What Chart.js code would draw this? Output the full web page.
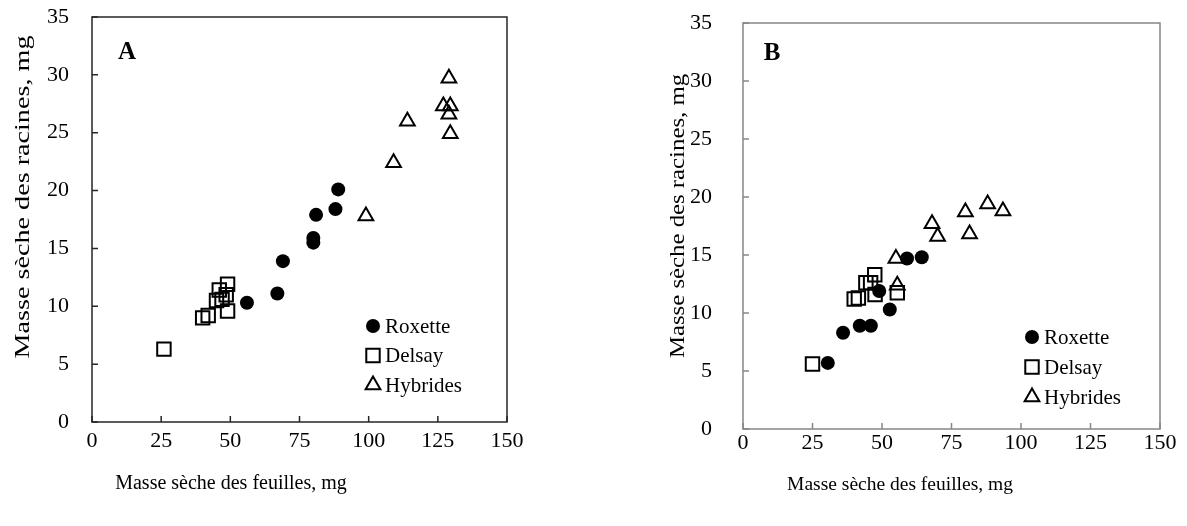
<!DOCTYPE html>
<html>
<head>
<meta charset="utf-8">
<script src="https://cdn.jsdelivr.net/npm/chart.js@4.4.1/dist/chart.umd.min.js"></script>
<style>
  html, body { margin: 0; padding: 0; background: #fff; }
  #wrap { position: relative; width: 1187px; height: 526px; }
  .box { position: absolute; top: 0; height: 526px; }
  #boxA { left: 0; width: 593px; }
  #boxB { left: 593px; width: 594px; }
</style>
</head>
<body>
<div id="wrap">
  <div class="box" id="boxA"><canvas id="chartA"></canvas></div>
  <div class="box" id="boxB"><canvas id="chartB"></canvas></div>
</div>
<script>
// --- data ---
const seriesNames = ['Roxette', 'Delsay', 'Hybrides'];
const xTicks = [0, 25, 50, 75, 100, 125, 150];
const yTicks = [0, 5, 10, 15, 20, 25, 30, 35];

// panel A
const roxA_x = [56, 67, 69, 80, 80, 81, 88, 89];
const roxA_y = [10.3, 11.1, 13.9, 15.5, 15.9, 17.9, 18.4, 20.1];
const delA_x = [26, 40, 42, 45, 47, 46, 48.5, 49, 49];
const delA_y = [6.3, 9.0, 9.2, 10.5, 10.6, 11.4, 11.0, 9.6, 11.9];
const hybA_x = [99, 109, 114, 127, 129.5, 129, 129, 129.5];
const hybA_y = [17.8, 22.4, 26.0, 27.3, 27.3, 26.6, 29.7, 24.9];

// panel B
const roxB_x = [30.5, 36, 42, 46, 49, 52.8, 59, 64.3];
const roxB_y = [5.7, 8.3, 8.9, 8.9, 11.9, 10.3, 14.7, 14.8];
const delB_x = [25, 40, 41.5, 44.2, 45.9, 47.4, 47.5, 55.5];
const delB_y = [5.6, 11.2, 11.3, 12.6, 12.6, 13.3, 11.6, 11.75];
const hybB_x = [55, 55.5, 68, 70, 80, 81.5, 88, 93.5];
const hybB_y = [14.7, 12.4, 17.7, 16.6, 18.7, 16.8, 19.4, 18.8];

const FONT = "'Liberation Serif', 'Times New Roman', serif";
const xTitle = 'Masse sèche des feuilles, mg';
const yTitle = 'Masse sèche des racines, mg';

function pts(xs, ys) {
    return xs.map((x, i) => ({ x: x, y: ys[i] }));
}

// marker styles, same order as seriesNames
const markers = [
    { pointStyle: 'circle', radius: 7, backgroundColor: '#000', borderColor: '#000', borderWidth: 0 },
    { pointStyle: 'rect', radius: 9.5, backgroundColor: 'rgba(0,0,0,0)', borderColor: '#000', borderWidth: 2 },
    { pointStyle: 'triangle', radius: 8.5, backgroundColor: 'rgba(0,0,0,0)', borderColor: '#000', borderWidth: 2 }
];

function makeDatasets(list) {
    return list.map((d, i) => ({
        label: seriesNames[i],
        data: d,
        pointStyle: markers[i].pointStyle,
        pointRadius: markers[i].radius,
        pointHoverRadius: markers[i].radius,
        pointBackgroundColor: markers[i].backgroundColor,
        pointBorderColor: markers[i].borderColor,
        pointBorderWidth: markers[i].borderWidth,
        showLine: false
    }));
}

// draws frame, inward ticks, titles, panel letter and legend
const decorPlugin = {
    id: 'decor',
    afterDraw(chart, args, o) {
        const ctx = chart.ctx;
        const a = chart.chartArea;
        const xs = chart.scales.x, ys = chart.scales.y;
        ctx.save();
        ctx.strokeStyle = o.axisColor;
        ctx.lineWidth = 1.5;
        ctx.strokeRect(a.left, a.top, a.right - a.left, a.bottom - a.top);
        ctx.beginPath();
        xs.ticks.forEach(t => {
            const px = xs.getPixelForValue(t.value);
            ctx.moveTo(px, a.bottom);
            ctx.lineTo(px, a.bottom - 6);
        });
        ys.ticks.forEach(t => {
            const py = ys.getPixelForValue(t.value);
            ctx.moveTo(a.left, py);
            ctx.lineTo(a.left + 6, py);
        });
        ctx.stroke();

        ctx.fillStyle = '#000';
        ctx.textAlign = 'center';
        ctx.textBaseline = 'middle';
        ctx.font = o.xTitleSize + 'px ' + FONT;
        ctx.fillText(xTitle, o.xTitle[0], o.xTitle[1]);
        ctx.save();
        ctx.font = o.yTitleSize + 'px ' + FONT;
        ctx.translate(o.yTitle[0], o.yTitle[1]);
        ctx.rotate(-Math.PI / 2);
        ctx.scale(o.yStretch, 1);
        ctx.fillText(yTitle, 0, 0);
        ctx.restore();

        ctx.font = 'bold 25px ' + FONT;
        ctx.fillText(o.letter, o.letterPos[0], o.letterPos[1]);

        // legend
        ctx.font = '21px ' + FONT;
        ctx.textAlign = 'left';
        seriesNames.forEach((name, i) => {
            const m = markers[i];
            const lx = o.legend[0], ly = o.legend[1] + i * o.legend[2];
            ctx.fillStyle = m.backgroundColor;
            ctx.strokeStyle = m.borderColor;
            ctx.lineWidth = m.borderWidth;
            Chart.helpers.drawPoint(ctx, { pointStyle: m.pointStyle, radius: m.radius, rotation: 0, borderWidth: m.borderWidth }, lx, ly);
            ctx.fillStyle = '#000';
            ctx.fillText(name, lx + 12, ly + 1);
        });
        ctx.restore();
    }
};

function makeChart(id, datasets, cfg) {
    const tickFont = { family: FONT, size: 22 };
    return new Chart(document.getElementById(id), {
        type: 'scatter',
        data: { datasets: makeDatasets(datasets) },
        options: {
            responsive: true,
            maintainAspectRatio: false,
            animation: false,
            layout: { padding: { top: cfg.top, right: cfg.right, left: 0, bottom: 0 } },
            plugins: {
                legend: { display: false },
                tooltip: { enabled: false },
                decor: cfg.decor
            },
            scales: {
                x: {
                    type: 'linear',
                    min: xTicks[0], max: xTicks[xTicks.length - 1],
                    afterBuildTicks: s => { s.ticks = xTicks.map(v => ({ value: v })); },
                    afterFit: s => { s.height = cfg.xh; },
                    // label gap comes from tickLength (marks themselves are drawn by the plugin)
                    grid: { display: false, drawTicks: true, tickLength: cfg.xPad },
                    border: { display: false },
                    ticks: { color: '#000', font: tickFont, padding: 0, maxRotation: 0 }
                },
                y: {
                    type: 'linear',
                    min: yTicks[0], max: yTicks[yTicks.length - 1],
                    afterBuildTicks: s => { s.ticks = yTicks.map(v => ({ value: v })); },
                    afterFit: s => { s.width = cfg.yw; },
                    grid: { display: false, drawTicks: true, tickLength: cfg.yPad },
                    border: { display: false },
                    ticks: { color: '#000', font: tickFont, padding: 0 }
                }
            }
        },
        plugins: [decorPlugin]
    });
}

makeChart('chartA', [pts(roxA_x, roxA_y), pts(delA_x, delA_y), pts(hybA_x, hybA_y)], {
    top: 17, right: 86, xh: 104, yw: 92, xPad: 6, yPad: 23,
    decor: {
        axisColor: '#262626',
        xTitle: [231, 484], xTitleSize: 20,
        yTitle: [23, 197], yTitleSize: 22, yStretch: 1.28,
        letter: 'A', letterPos: [127, 53],
        legend: [373, 326, 29.5]
    }
});

makeChart('chartB', [pts(roxB_x, roxB_y), pts(delB_x, delB_y), pts(hybB_x, hybB_y)], {
    top: 23, right: 27, xh: 97, yw: 150, xPad: 1, yPad: 31,
    decor: {
        axisColor: '#868686',
        xTitle: [307, 485], xTitleSize: 19.5,
        yTitle: [85, 216], yTitleSize: 21, yStretch: 1.18,
        letter: 'B', letterPos: [179, 54],
        legend: [439, 337, 30]
    }
});
</script>
</body>
</html>
